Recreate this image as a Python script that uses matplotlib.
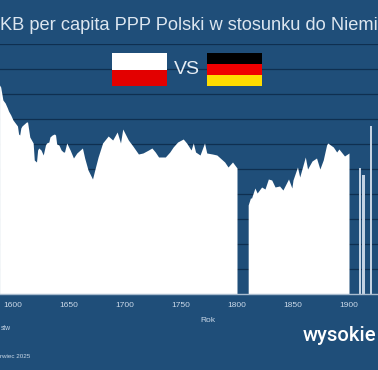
import matplotlib
matplotlib.use('Agg')
import matplotlib.pyplot as plt
from matplotlib.patches import Rectangle

# (PKB per capita Polski, Niemcy = 100)
years_a = [1588, 1589, 1591, 1593, 1595, 1596, 1598, 1600, 1602, 1604, 1605, 1606, 1607, 1608, 1610,
           1612, 1613, 1615, 1618, 1619, 1621, 1622, 1623, 1625, 1627, 1629, 1630, 1632, 1633, 1635,
           1637, 1638, 1639, 1641, 1643, 1645, 1646, 1648, 1651, 1654, 1657, 1662, 1664, 1667, 1671,
           1673, 1676, 1680, 1685, 1689, 1693, 1696, 1698, 1703, 1707, 1712, 1716, 1721, 1724, 1727,
           1730, 1736, 1740, 1743, 1747, 1752, 1755, 1759, 1761, 1763, 1767, 1771, 1773, 1778, 1782,
           1787, 1789, 1792, 1796, 1798, 1800]
values_a = [83.6, 82.8, 77.6, 76.4, 74.4, 73.2, 71.6, 69.6, 68.4, 67.2, 64, 63.6, 66.4, 67.2, 68,
            68.8, 68.8, 62.8, 60.4, 53.6, 52.8, 57.6, 58.4, 57.6, 55.6, 59.6, 60.4, 60.8, 62.8, 63.6,
            64, 63.6, 60, 59.6, 57.6, 56.8, 56.8, 60.4, 57.6, 54.4, 56.4, 58.4, 54.4, 49.6, 46,
            49.6, 54.8, 60.4, 63.2, 61.6, 64.8, 60.4, 66, 61.6, 59.2, 56, 56.4, 57.6, 58.4, 56.8,
            54.8, 54.8, 56.8, 58.8, 60.8, 62, 60.4, 57.6, 60.4, 56.8, 55.6, 60.4, 56.4, 56, 55.6,
            53.6, 52.8, 50.8, 52.8, 51.6, 50.4]

years_b = [1810, 1812, 1813, 1816, 1818, 1822, 1825, 1828, 1831, 1834, 1838, 1841, 1846, 1849, 1850,
           1854, 1856, 1861, 1863, 1867, 1871, 1874, 1877, 1880, 1881, 1886, 1889, 1891, 1896, 1900]
values_b = [35.6, 38.4, 38.4, 42.4, 40.4, 42.8, 42, 46, 45.6, 42.8, 43.2, 41.6, 46, 42.4, 45.6,
            50.8, 46.8, 54.8, 50, 53.2, 54.4, 50, 53.6, 59.6, 60.4, 58.8, 56.8, 58, 55.2, 56.4]

years_c = [1910, 1913, 1920]
values_c = [50.4, 47.6, 67.2]

xticks = [1600, 1650, 1700, 1750, 1800, 1850, 1900]
yticks = [10, 20, 30, 40, 50, 60, 70, 80, 90, 100]

BG = '#1f4e79'
W, H = 378, 370


def flag(fig, x, y, w, colors):
    h = 33 / len(colors)
    for i, c in enumerate(colors):
        fig.patches.append(Rectangle((x / W, 1 - (y + (i + 1) * h) / H), w / W, h / H,
                                     transform=fig.transFigure, color=c, lw=0, zorder=5))


fig = plt.figure(figsize=(W / 100, H / 100), dpi=100, facecolor=BG)
plt.rcParams['font.family'] = ['Liberation Sans', 'DejaVu Sans']
ax = fig.add_axes([0, 1 - 294 / H, 1, 250 / H], facecolor=BG)

ax.fill_between(years_a, values_a, color='white', lw=0, zorder=3)
ax.fill_between(years_b, values_b, color='white', lw=0, zorder=3)
ax.bar(years_c, values_c, width=1.9, color='#c3d2e2', lw=0, zorder=3)

ax.set_xlim(1588.4, 1925.9)
ax.set_ylim(0, 100)
ax.set_xticks(xticks)
ax.set_yticks(yticks)
ax.set_yticklabels([])
ax.grid(axis='y', color='#0f2f50', lw=0.9, zorder=1)
ax.tick_params(length=0)
ax.tick_params(axis='x', colors='#c9d8e8', labelsize=6, pad=6)
for name in ['top', 'left', 'right']:
    ax.spines[name].set_visible(False)
ax.spines['bottom'].set_color('#a9bccf')
ax.spines['bottom'].set_linewidth(1)
ax.spines['bottom'].set_zorder(4)

fig.text(208 / W, 1 - 320 / H, 'Rok', color='#c9d8e8', fontsize=6, ha='center', va='center')
fig.text(0.5 / W, 1 - 30 / H, 'KB per capita PPP Polski w stosunku do Niemi', color='#dce6f0', fontsize=13.15,
         ha='left', va='baseline')
fig.text(187 / W, 1 - 70 / H, 'VS', color='#e6edf4', fontsize=14, ha='center', va='center')
flag(fig, 112, 53, 55, ['white', '#e30000'])
flag(fig, 207, 53, 55, ['black', '#f00000', '#ffdc00'])

fig.text(0.5 / W, 1 - 329 / H, 'stw', color='#c9d8e8', fontsize=4.8, ha='left', va='center')
fig.text(0.5 / W, 1 - 356 / H, 'rwiec 2025', color='#c9d8e8', fontsize=4.5, ha='left', va='center')
fig.text(303 / W, 1 - 341 / H, 'wysokie', color='white', fontsize=14.6, fontweight=500,
         family=['Roboto', 'DejaVu Sans'], ha='left', va='baseline')

fig.savefig('out.png', dpi=100, facecolor=BG)
